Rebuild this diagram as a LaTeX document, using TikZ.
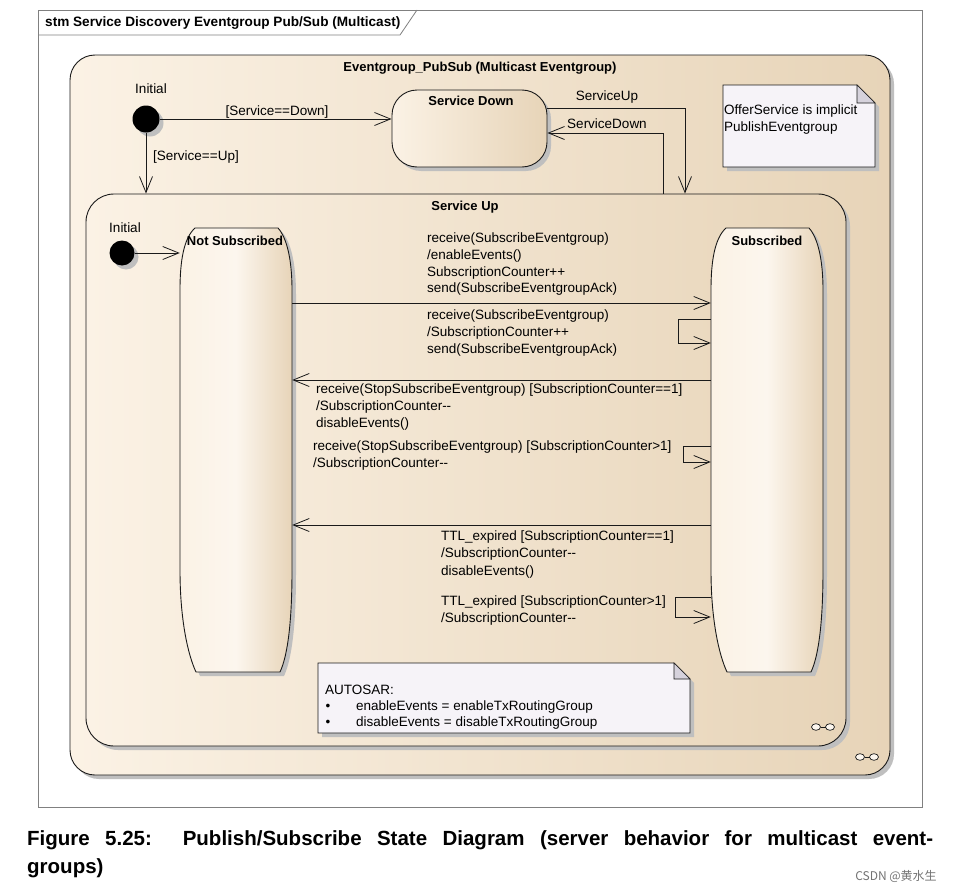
\documentclass[tikz,border=0pt]{standalone}
\usepackage{fontspec}
\setmainfont{Liberation Sans}
\newfontfamily\cjkfont{Noto Sans CJK SC}
\usetikzlibrary{arrows.meta,shadows}
\definecolor{stcream}{HTML}{FBF2E5}
\definecolor{sttan}{HTML}{E7D4B8}
\definecolor{stlight}{HTML}{FCF6EE}
\definecolor{notefill}{HTML}{F6F3F8}
\definecolor{foldfill}{HTML}{D6D2DC}
\definecolor{lineclr}{HTML}{1A1A1A}
\definecolor{framegray}{HTML}{808080}
\newcommand\tallstatepath[1]{(#1+15,228) -- (#1+98,228) .. controls (#1+107,238) and (#1+112,260) .. (#1+112,290) -- (#1+112,570) .. controls (#1+112,620) and (#1+108,655) .. (#1+100,672) -- (#1+16,672) .. controls (#1+8,655) and (#1,620) .. (#1,570) -- (#1,290) .. controls (#1,260) and (#1+4,238) .. (#1+15,228) -- cycle}
\newcommand\dmm{-\kern0pt-}
\begin{document}
\begin{tikzpicture}[x=1pt,y=-1pt,
  lbl/.style={font=\fontsize{13.5}{16.6}\selectfont, inner sep=0pt, align=left, text=black},
  ttl/.style={font=\bfseries\fontsize{13}{15}\selectfont, inner sep=0pt},
  tr/.style={draw=lineclr, line width=0.8pt, -{Straight Barb[length=16pt,width=13pt,line width=0.8pt]}},
  cshadow/.style={drop shadow={shadow xshift=4pt,shadow yshift=-4pt,fill=black!25,opacity=1}},
  compstate/.style={draw=lineclr, line width=0.9pt, left color=stcream, right color=sttan, cshadow, rectangle, inner sep=0pt},
  initial/.style={circle, fill=black, inner sep=0pt, cshadow},
  notebox/.style={fill=notefill, draw=lineclr, line width=0.8pt},
  foldbox/.style={fill=foldfill, draw=lineclr, line width=0.6pt},
  shadowfill/.style={fill=black!25},
  tallstate/.style={draw=lineclr, line width=0.9pt, left color=stcream, right color=sttan, middle color=stlight},
  infsym/.style={draw=lineclr, fill=stlight, line width=0.7pt},
]
\useasboundingbox (0,0) rectangle (962,894);
\fill[white] (0,0) rectangle (962,894);

% frame
\draw[framegray, line width=0.8pt] (38,10) rectangle (922,807);
\draw[framegray, line width=0.8pt] (38,35) -- (400,35) -- (417,10);
\node[font=\bfseries\fontsize{13.6}{15}\selectfont, anchor=west, inner sep=0pt] (frametitle) at (45,23) {stm Service Discovery Eventgroup Pub/Sub (Multicast)};

% outer composite state
\node[compstate, rounded corners=25pt, minimum width=820pt, minimum height=720pt] (pubsub) at (480,415) {};
\node[ttl] (pubsubtitle) at (480,68) {Eventgroup\_PubSub (Multicast Eventgroup)};

% initial 1
\node[initial, minimum size=27pt] (init1) at (146,119) {};
\node[lbl] (init1lbl) at (151,89) {Initial};

% service down
\node[compstate, rounded corners=25pt, minimum width=155pt, minimum height=77pt] (sdown) at (469.5,128.5) {};
\node[ttl] (sdowntitle) at (471,101) {Service Down};

% note 1
\fill[shadowfill, shift={(4,4)}] (723,85) -- (857,85) -- (875,103) -- (875,167) -- (723,167) -- cycle;
\path[notebox] (723,85) -- (857,85) -- (875,103) -- (875,167) -- (723,167) -- cycle;
\path[foldbox] (857,85) -- (857,103) -- (875,103) -- cycle;
\node[lbl, anchor=north west] (note1) at (724,105) {OfferService is implicit\\PublishEventgroup};

% service up
\node[compstate, rounded corners=28pt, minimum width=760pt, minimum height=552pt] (sup) at (466,470) {};
\node[ttl] (suptitle) at (465,207) {Service Up};

% transitions top
\draw[tr] (init1.east) -- (init1.east -| sdown.west);
\node[lbl] (lsd) at (277,112) {[Service==Down]};
\draw[tr] (init1.south) -- (init1.south |- sup.north);
\node[lbl] (lsu) at (196,157) {[Service==Up]};
\draw[tr] (sdown.east |- 0,108) -| (sup.north -| 685,0);
\node[lbl] (lsvup) at (607,97) {ServiceUp};
\draw[tr] (sup.north -| 663,0) |- (sdown.east |- 0,133);
\node[lbl] (lsvdown) at (607,124) {ServiceDown};

% not subscribed / subscribed
\fill[shadowfill, shift={(4,4)}] \tallstatepath{180};
\path[tallstate] \tallstatepath{180};
\fill[shadowfill, shift={(4,4)}] \tallstatepath{711};
\path[tallstate] \tallstatepath{711};
\node[inner sep=0pt, minimum width=112pt, minimum height=444pt] (ns) at (236,450) {};
\node[inner sep=0pt, minimum width=112pt, minimum height=444pt] (sb) at (767,450) {};
\node[ttl] (nstitle) at (235,241) {Not Subscribed};
\node[ttl] (sbtitle) at (767,241) {Subscribed};

% initial 2
\node[initial, minimum size=25pt] (init2) at (122,253) {};
\node[lbl] (init2lbl) at (125,228) {Initial};
\draw[tr] (init2.east) -- (ns.west |- init2.east);

% transitions inner
\draw[tr] (ns.east |- 0,303) -- (sb.west |- 0,303);
\node[lbl, anchor=north west] (t1) at (427,233) {receive(SubscribeEventgroup)\\/enableEvents()\\SubscriptionCounter++\\send(SubscribeEventgroupAck)};
\draw[tr] (sb.west |- 0,319) -- ++(-32,0) |- (sb.west |- 0,343);
\node[lbl, anchor=north west] (t2) at (427,310) {receive(SubscribeEventgroup)\\/SubscriptionCounter++\\send(SubscribeEventgroupAck)};
\draw[tr] (sb.west |- 0,380) -- (ns.east |- 0,380);
\node[lbl, anchor=north west] (t3) at (316,384) {receive(StopSubscribeEventgroup) [SubscriptionCounter==1]\\/SubscriptionCounter\dmm\\disableEvents()};
\draw[tr] (sb.west |- 0,446) -- ++(-27,0) |- (sb.west |- 0,462);
\node[lbl, anchor=north west] (t4) at (313,441) {receive(StopSubscribeEventgroup) [SubscriptionCounter>1]\\/SubscriptionCounter\dmm};
\draw[tr] (sb.west |- 0,525) -- (ns.east |- 0,525);
\node[lbl, anchor=north west] (t5) at (441,531) {TTL\_expired [SubscriptionCounter==1]\\/SubscriptionCounter\dmm\\[1pt]disableEvents()};
\draw[tr] (sb.west |- 0,597) -- ++(-35,0) |- (sb.west |- 0,617);
\node[lbl, anchor=north west] (t6) at (441,596) {TTL\_expired [SubscriptionCounter>1]\\/SubscriptionCounter\dmm};

% note 2
\fill[shadowfill, shift={(4,4)}] (318,663) -- (674,663) -- (690,679) -- (690,733) -- (318,733) -- cycle;
\path[notebox] (318,663) -- (674,663) -- (690,679) -- (690,733) -- (318,733) -- cycle;
\path[foldbox] (674,663) -- (674,679) -- (690,679) -- cycle;
\node[lbl, anchor=west] (autosar) at (325,690) {AUTOSAR:};
\node[lbl] (b1) at (328,707) {•};
\node[lbl] (b2) at (328,723) {•};
\node[lbl, anchor=west] (n2l1) at (356,707) {enableEvents = enableTxRoutingGroup};
\node[lbl, anchor=west] (n2l2) at (356,723) {disableEvents = disableTxRoutingGroup};

% decomposition symbols
\draw[infsym] (816,727) ellipse (4.5 and 3.3);
\draw[infsym] (830,727) ellipse (4.5 and 3.3);
\draw[lineclr, line width=0.7pt] (820.5,727) -- (825.5,727);
\draw[infsym] (860,757) ellipse (4.5 and 3.3);
\draw[infsym] (874,757) ellipse (4.5 and 3.3);
\draw[lineclr, line width=0.7pt] (864.5,757) -- (869.5,757);

% caption
\node[anchor=north west, inner sep=0pt, text width=906pt, align=justify, font=\bfseries\fontsize{20.5}{28.5}\selectfont] (caption) at (27,830) {Figure 5.25:\ \ Publish/Subscribe State Diagram (server behavior for multicast event-\linebreak groups)};
\node[font=\cjkfont\fontsize{12}{14}\selectfont, text=black!55, inner sep=0pt] (wm) at (896,876) {CSDN @黄水生};
\end{tikzpicture}
\end{document}
